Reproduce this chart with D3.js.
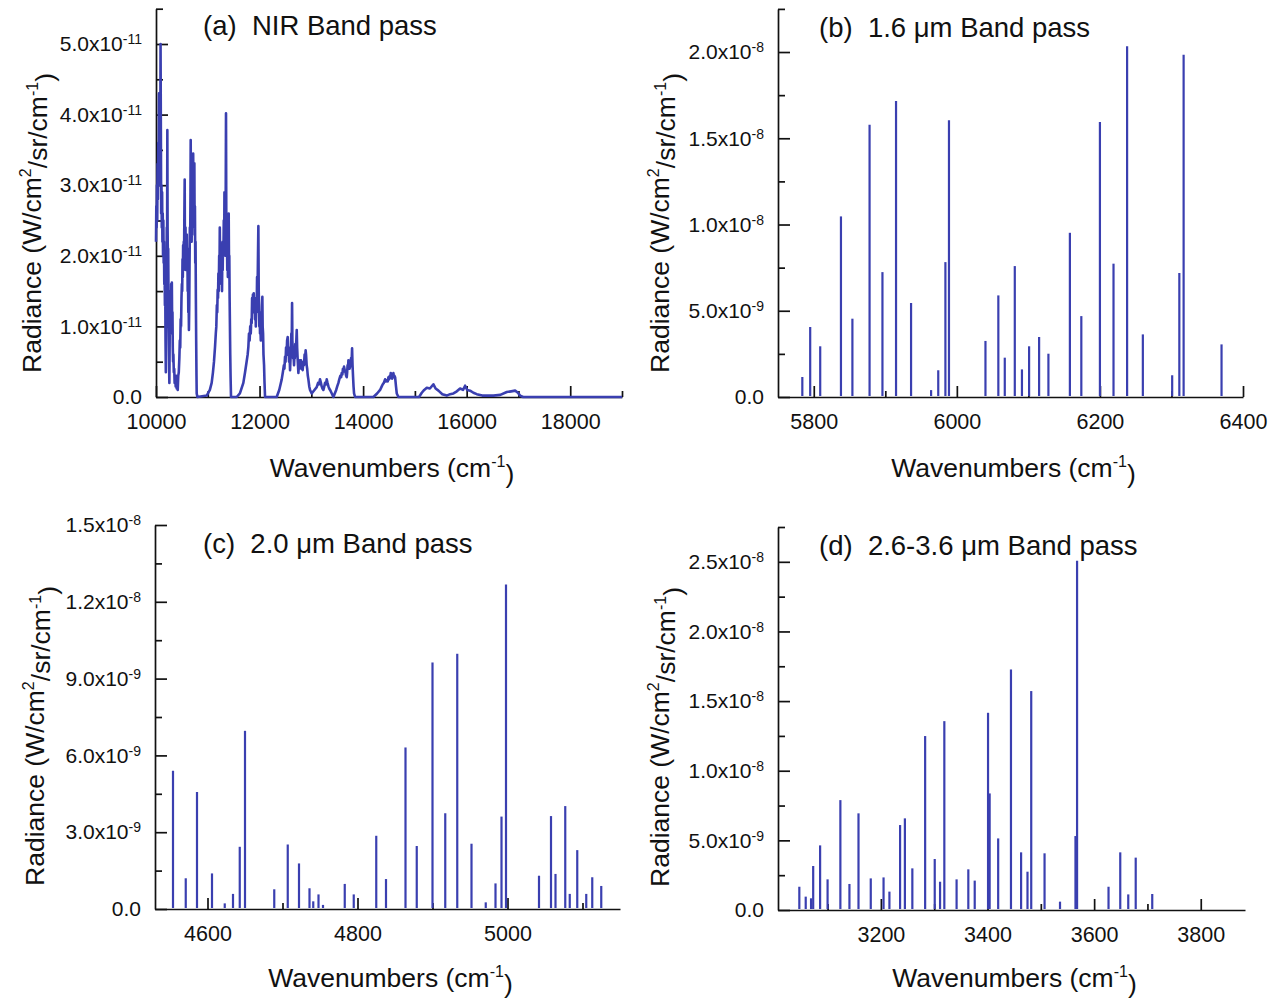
<!DOCTYPE html>
<html>
<head>
<meta charset="utf-8">
<script src="https://cdn.jsdelivr.net/npm/d3@7"></script>
<style>
body { margin: 0; background: #fff; }
svg { font-family: "Liberation Sans", Arial, sans-serif; }
</style>
</head>
<body>
<svg id="chart" width="1281" height="998"></svg>
<script>
// ---- (a) NIR band pass: dense spectrum, [wavenumber, radiance x1e-11]
var nirPoints = [
  [10000, 2.2], [10006, 2.7], [10012, 2.4], [10018, 3.0], [10024, 2.5], [10030, 3.3], [10036, 2.8], [10044, 3.6], [10050, 3.0], [10058, 4.3],
  [10066, 3.5], [10074, 4.0], [10082, 3.4], [10088, 5.0], [10094, 3.8], [10100, 2.6], [10106, 3.0], [10112, 2.4], [10118, 2.9], [10124, 2.2],
  [10130, 2.6], [10136, 2.0], [10142, 2.5], [10148, 1.9], [10154, 2.2], [10160, 1.6], [10166, 1.8], [10172, 1.3], [10178, 1.6], [10184, 0.8],
  [10190, 0.35], [10196, 1.0], [10202, 1.6], [10208, 2.4], [10214, 2.0], [10219, 3.78], [10224, 2.4], [10230, 1.9], [10236, 2.1], [10242, 1.3],
  [10248, 0.9], [10254, 0.4], [10258, 0.2], [10264, 0.8], [10270, 1.2], [10276, 0.9], [10282, 1.5], [10288, 1.1], [10294, 1.6], [10300, 1.2],
  [10306, 1.62], [10312, 1.0], [10318, 1.2], [10324, 0.7], [10330, 0.5], [10336, 0.6], [10344, 0.35], [10352, 0.4], [10360, 0.2], [10370, 0.3],
  [10380, 0.15], [10390, 0.3], [10400, 0.12], [10410, 0.25], [10420, 0.1], [10430, 0.3], [10440, 0.35], [10451, 0.55], [10460, 0.8], [10468, 0.7],
  [10476, 1.1], [10484, 1.0], [10492, 1.4], [10500, 1.6], [10506, 1.5], [10512, 1.95], [10518, 1.7], [10524, 2.15], [10530, 1.8], [10536, 2.2],
  [10542, 2.0], [10548, 2.6], [10554, 3.08], [10558, 2.2], [10564, 2.0], [10570, 2.4], [10576, 1.8], [10582, 2.1], [10588, 1.9], [10594, 2.3],
  [10600, 1.8], [10606, 2.1], [10612, 1.5], [10618, 1.7], [10624, 1.2], [10630, 1.4], [10636, 0.95], [10642, 1.3], [10648, 1.9], [10654, 2.4],
  [10660, 2.2], [10666, 2.9], [10670, 3.64], [10676, 2.6], [10682, 2.9], [10688, 2.2], [10694, 2.6], [10700, 2.3], [10706, 2.8], [10712, 2.6],
  [10718, 3.45], [10724, 2.8], [10730, 3.0], [10736, 2.6], [10741, 3.31], [10746, 2.4], [10752, 2.7], [10758, 1.9], [10764, 2.2], [10770, 1.4],
  [10776, 0.8], [10782, 0.3], [10786, 0.05], [10800, 0.0],
  [10980, 0.02], [11040, 0.1], [11075, 0.2], [11100, 0.35], [11120, 0.5], [11140, 0.71], [11155, 0.9], [11165, 1.0], [11175, 1.3], [11183, 1.2],
  [11191, 1.52], [11198, 1.4], [11205, 1.75], [11212, 1.5], [11220, 2.0], [11226, 1.7], [11232, 2.4], [11238, 1.9], [11244, 2.2], [11250, 1.7],
  [11256, 2.0], [11262, 1.6], [11269, 1.9], [11275, 1.5], [11281, 2.0], [11288, 1.8], [11295, 2.2], [11302, 2.0], [11309, 2.5], [11316, 2.1],
  [11322, 2.9], [11328, 2.2], [11334, 2.4], [11340, 2.0], [11346, 2.8], [11352, 4.02], [11358, 2.4], [11364, 2.0], [11370, 2.3], [11376, 1.8],
  [11382, 2.1], [11388, 1.7], [11394, 2.3], [11400, 2.0], [11404, 2.6], [11410, 1.9], [11416, 2.0], [11422, 1.4], [11428, 1.0], [11434, 0.6],
  [11440, 0.3], [11449, 0.0], [11558, 0.0],
  [11620, 0.05], [11687, 0.2], [11720, 0.35], [11750, 0.5], [11770, 0.6], [11784, 0.71], [11796, 0.9], [11808, 0.8], [11820, 1.0], [11830, 0.9],
  [11840, 1.1], [11848, 1.05], [11856, 1.4], [11864, 1.2], [11872, 1.45], [11880, 1.3], [11888, 1.47], [11896, 1.2], [11904, 1.4], [11912, 1.1],
  [11920, 1.33], [11928, 1.0], [11936, 1.3], [11944, 1.2], [11952, 1.7], [11960, 1.4], [11968, 1.9], [11977, 2.42], [11984, 1.5], [11990, 1.3],
  [11996, 1.0], [12002, 1.2], [12009, 0.9], [12016, 1.0], [12024, 0.8], [12032, 1.2], [12040, 1.0], [12048, 1.3], [12054, 1.42], [12060, 1.0],
  [12068, 0.9], [12076, 0.6], [12087, 0.45], [12096, 0.2], [12106, 0.0], [12331, 0.0],
  [12380, 0.1], [12428, 0.25], [12450, 0.35], [12470, 0.45], [12480, 0.4], [12492, 0.57], [12502, 0.5], [12512, 0.7], [12522, 0.6], [12532, 0.8],
  [12544, 0.85], [12552, 0.6], [12560, 0.7], [12570, 0.5], [12580, 0.6], [12589, 0.38], [12598, 0.55], [12606, 0.7], [12614, 0.9], [12622, 0.8],
  [12628, 1.33], [12634, 0.8], [12640, 0.7], [12648, 0.55], [12656, 0.6], [12666, 0.45], [12674, 0.6], [12682, 0.55], [12690, 0.75], [12700, 0.7],
  [12710, 0.8], [12718, 0.95], [12726, 0.7], [12735, 0.55], [12742, 0.45], [12750, 0.34], [12760, 0.45], [12770, 0.4], [12780, 0.52], [12790, 0.45],
  [12800, 0.52], [12810, 0.4], [12820, 0.45], [12832, 0.38], [12846, 0.5], [12858, 0.45], [12870, 0.6], [12880, 0.55], [12890, 0.66], [12898, 0.6],
  [12910, 0.45], [12920, 0.4], [12932, 0.3], [12943, 0.25], [12960, 0.15], [12975, 0.1], [13007, 0.05],
  [13060, 0.1], [13104, 0.14], [13130, 0.2], [13150, 0.18], [13168, 0.25], [13185, 0.2], [13200, 0.15], [13215, 0.12], [13233, 0.1], [13250, 0.15],
  [13265, 0.2], [13282, 0.18], [13297, 0.25], [13312, 0.2], [13330, 0.15], [13345, 0.12], [13362, 0.1], [13395, 0.05], [13426, 0.0],
  [13480, 0.1], [13500, 0.15], [13523, 0.2], [13540, 0.25], [13560, 0.3], [13575, 0.28], [13587, 0.34], [13600, 0.32], [13610, 0.4], [13620, 0.36],
  [13632, 0.43], [13645, 0.38], [13660, 0.35], [13672, 0.3], [13684, 0.28], [13692, 0.35], [13700, 0.45], [13708, 0.4], [13716, 0.52], [13724, 0.45],
  [13730, 0.48], [13738, 0.4], [13748, 0.43], [13758, 0.5], [13768, 0.55], [13778, 0.5], [13787, 0.69], [13796, 0.45], [13805, 0.3], [13815, 0.15],
  [13825, 0.05], [13845, 0.0], [14199, 0.0],
  [14270, 0.05], [14328, 0.1], [14360, 0.15], [14380, 0.18], [14400, 0.2], [14424, 0.25], [14440, 0.22], [14460, 0.24], [14475, 0.22], [14489, 0.28],
  [14500, 0.25], [14515, 0.3], [14525, 0.27], [14534, 0.34], [14545, 0.28], [14560, 0.26], [14572, 0.3], [14585, 0.34], [14595, 0.28], [14605, 0.3],
  [14618, 0.28], [14635, 0.15], [14650, 0.05], [14682, 0.0], [15080, 0.0],
  [15133, 0.06], [15180, 0.1], [15230, 0.13], [15290, 0.12], [15358, 0.18], [15400, 0.12], [15455, 0.09], [15530, 0.04], [15616, 0.02], [15680, 0.04],
  [15745, 0.05], [15810, 0.08], [15873, 0.12], [15930, 0.1], [15970, 0.16], [16010, 0.1], [16066, 0.09], [16130, 0.06], [16195, 0.04], [16300, 0.02],
  [16517, 0.02], [16650, 0.03], [16775, 0.07], [16860, 0.08], [16936, 0.09], [16990, 0.06], [17032, 0.02], [17090, 0.0], [19000, 0.0]];

// ---- (b) 1.6 um band pass lines, radiance x1e-8
var b16Wn = [5784, 5795, 5809, 5838, 5854, 5878, 5896, 5915, 5936, 5964, 5974, 5984, 5989, 6040, 6058, 6067, 6081, 6091, 6101, 6115,
  6128, 6158, 6174, 6200, 6219, 6238, 6260, 6301, 6311, 6317, 6370];
var b16Rad = [0.116, 0.406, 0.294, 1.047, 0.454, 1.578, 0.724, 1.716, 0.545, 0.04, 0.155, 0.782, 1.604, 0.325, 0.589, 0.228, 0.759, 0.16, 0.294, 0.348,
  0.251, 0.952, 0.469, 1.594, 0.773, 2.034, 0.363, 0.126, 0.719, 1.984, 0.305];

// ---- (c) 2.0 um band pass lines, radiance x1e-8
var c20Wn = [4554, 4571, 4586, 4606, 4623, 4634, 4643, 4650, 4689, 4707, 4722, 4736, 4741, 4748, 4754, 4783, 4795, 4825, 4838, 4864,
  4879, 4900, 4917, 4933, 4952, 4971, 4984, 4992, 4998, 5042, 5058, 5064, 5077, 5083, 5093, 5105, 5113, 5125];
var c20Rad = [0.540, 0.120, 0.457, 0.139, 0.022, 0.059, 0.243, 0.696, 0.077, 0.252, 0.178, 0.081, 0.03, 0.057, 0.016, 0.098, 0.057, 0.286, 0.117, 0.631,
  0.246, 0.963, 0.374, 0.997, 0.255, 0.026, 0.100, 0.361, 1.268, 0.130, 0.363, 0.137, 0.402, 0.059, 0.230, 0.059, 0.124, 0.090];

// ---- (d) 2.6-3.6 um band pass lines, radiance x1e-8
var d26Wn = [3047, 3059, 3069, 3073, 3086, 3100, 3124, 3141, 3158, 3181, 3205, 3216, 3236, 3245, 3259, 3283, 3301, 3311, 3319, 3342,
  3364, 3376, 3401, 3404, 3420, 3444, 3463, 3475, 3482, 3507, 3536, 3565, 3568, 3627, 3649, 3664, 3678, 3709];
var d26Rad = [0.167, 0.096, 0.084, 0.316, 0.464, 0.220, 0.789, 0.187, 0.694, 0.227, 0.234, 0.132, 0.610, 0.658, 0.299, 1.249, 0.366, 0.203, 1.356, 0.220,
  0.292, 0.211, 1.416, 0.837, 0.514, 1.727, 0.414, 0.275, 1.572, 0.407, 0.06, 0.531, 2.507, 0.167, 0.414, 0.112, 0.376, 0.115];

// ---- ticks
var aXTicks = [10000, 12000, 14000, 16000, 18000], aXMinor = [11000, 13000, 15000, 17000, 19000];
var aYTicks = [0, 1e-11, 2e-11, 3e-11, 4e-11, 5e-11], aYMinor = [0.5e-11, 1.5e-11, 2.5e-11, 3.5e-11, 4.5e-11, 5.5e-11];
var bXTicks = [5800, 6000, 6200, 6400], bXMinor = [5900, 6100, 6300];
var bYTicks = [0, 5e-9, 1e-8, 1.5e-8, 2e-8], bYMinor = [2.5e-9, 7.5e-9, 1.25e-8, 1.75e-8, 2.25e-8];
var cXTicks = [4600, 4800, 5000], cXMinor = [4700, 4900, 5100];
var cYTicks = [0, 3e-9, 6e-9, 9e-9, 1.2e-8, 1.5e-8], cYMinor = [1.5e-9, 4.5e-9, 7.5e-9, 1.05e-8, 1.35e-8];
var dXTicks = [3200, 3400, 3600, 3800], dXMinor = [3100, 3300, 3500, 3700];
var dYTicks = [0, 5e-9, 1e-8, 1.5e-8, 2e-8, 2.5e-8], dYMinor = [2.5e-9, 7.5e-9, 1.25e-8, 1.75e-8, 2.25e-8, 2.75e-8];

var lineColor = "#3a3fb0";
var svg = d3.select("#chart");

function expLabel(text, v) {
    text.text(null);
    if (v === 0) { text.text("0.0"); return; }
    var e = Math.floor(Math.log10(v) + 1e-9);
    var m = (v / Math.pow(10, e)).toFixed(1);
    text.append("tspan").text(m + "x10");
    text.append("tspan").attr("dy", "-0.5em").style("font-size", "14px").text(e);
}

function drawPanel(p)
{
    var g = svg.append("g");
    var x = d3.scaleLinear().domain(p.xDomain).range(p.xRange);
    var y = d3.scaleLinear().domain(p.yDomain).range(p.yRange);

    // minor ticks
    g.append("g").attr("transform", "translate(0," + p.yRange[0] + ")")
        .call(d3.axisBottom(x).tickValues(p.xMinor).tickSizeInner(-6).tickSizeOuter(0).tickFormat(""))
        .call(function(s){ s.select(".domain").remove(); });
    g.append("g").attr("transform", "translate(" + p.xRange[0] + ",0)")
        .call(d3.axisLeft(y).tickValues(p.yMinor).tickSizeInner(-7).tickSizeOuter(0).tickFormat(""))
        .call(function(s){ s.select(".domain").remove(); });

    // major axes
    var xa = g.append("g").attr("transform", "translate(0," + p.yRange[0] + ")")
        .call(d3.axisBottom(x).tickValues(p.xTicks).tickSizeInner(-11).tickSizeOuter(0).tickPadding(17).tickFormat(d3.format("d")));
    var ya = g.append("g").attr("transform", "translate(" + p.xRange[0] + ",0)")
        .call(d3.axisLeft(y).tickValues(p.yTicks).tickSizeInner(-12).tickSizeOuter(0).tickPadding(14));
    ya.selectAll(".tick text").each(function(d){ expLabel(d3.select(this), d); });

    [xa, ya].forEach(function(a){
        a.attr("font-family", null).attr("font-size", null);
        a.selectAll("text").attr("fill", "#111");
    });
    xa.selectAll("text").style("font-size", "21.5px");
    ya.selectAll("text").style("font-size", "21px");
    g.selectAll("line,path").attr("stroke", "#111").attr("stroke-width", 1.7);

    // data
    if (p.kind === "dense") {
        var line = d3.line()
            .x(function(d){ return x(d[0]); })
            .y(function(d){ return y(d[1] * p.unit); });
        g.append("path")
            .attr("d", line(p.points))
            .attr("fill", "none")
            .attr("stroke", lineColor)
            .attr("stroke-width", 2.6)
            .attr("stroke-linejoin", "round");
    } else {
        g.selectAll(".stick").data(d3.range(p.wn.length)).enter().append("line")
            .attr("class", "stick")
            .attr("x1", function(i){ return x(p.wn[i]); })
            .attr("x2", function(i){ return x(p.wn[i]); })
            .attr("y1", y(0) - 1)
            .attr("y2", function(i){ return y(p.rad[i] * p.unit); })
            .attr("stroke", lineColor)
            .attr("stroke-width", 2.2);
    }

    // titles
    g.append("text").attr("x", p.titleX).attr("y", p.titleY)
        .style("font-size", "27.5px").style("white-space", "pre").attr("fill", "#111")
        .text(p.title);

    var xt = g.append("text").attr("x", (p.xRange[0] + p.xRange[1]) / 2 + 3).attr("y", p.xTitleY)
        .attr("text-anchor", "middle").style("font-size", "26.5px").attr("fill", "#111");
    xt.append("tspan").text("Wavenumbers (cm");
    xt.append("tspan").attr("dy", "-0.6em").style("font-size", "16px").text("-1");
    xt.append("tspan").attr("dy", "0.6em").text(")");

    var yt = g.append("text")
        .attr("transform", "translate(" + p.yTitleX + "," + p.yTitleY + ") rotate(-90)")
        .attr("text-anchor", "middle").style("font-size", "26.5px").attr("fill", "#111");
    yt.append("tspan").text("Radiance (W/cm");
    yt.append("tspan").attr("dy", "-0.6em").style("font-size", "16px").text("2");
    yt.append("tspan").attr("dy", "0.6em").text("/sr/cm");
    yt.append("tspan").attr("dy", "-0.6em").style("font-size", "16px").text("-1");
    yt.append("tspan").attr("dy", "0.6em").text(")");
}

drawPanel({ kind: "dense", points: nirPoints, unit: 1e-11,
    xDomain: [10000, 19000], xRange: [156, 622], yDomain: [0, 5.5e-11], yRange: [397, 8.7],
    xTicks: aXTicks, xMinor: aXMinor, yTicks: aYTicks, yMinor: aYMinor,
    title: "(a)  NIR Band pass", titleX: 203, titleY: 35, xTitleY: 477, yTitleX: 41, yTitleY: 223 });

drawPanel({ kind: "sticks", wn: b16Wn, rad: b16Rad, unit: 1e-8,
    xDomain: [5750, 6400], xRange: [778, 1243], yDomain: [0, 2.25e-8], yRange: [397, 8.9],
    xTicks: bXTicks, xMinor: bXMinor, yTicks: bYTicks, yMinor: bYMinor,
    title: "(b)  1.6 \u03bcm Band pass", titleX: 819, titleY: 37, xTitleY: 477, yTitleX: 669, yTitleY: 223 });

drawPanel({ kind: "sticks", wn: c20Wn, rad: c20Rad, unit: 1e-8,
    xDomain: [4530, 5150], xRange: [155, 620], yDomain: [0, 1.5e-8], yRange: [909, 525],
    xTicks: cXTicks, xMinor: cXMinor, yTicks: cYTicks, yMinor: cYMinor,
    title: "(c)  2.0 \u03bcm Band pass", titleX: 203, titleY: 553, xTitleY: 987, yTitleX: 44, yTitleY: 736 });

drawPanel({ kind: "sticks", wn: d26Wn, rad: d26Rad, unit: 1e-8,
    xDomain: [3007, 3883], xRange: [778, 1245], yDomain: [0, 2.75e-8], yRange: [910, 527],
    xTicks: dXTicks, xMinor: dXMinor, yTicks: dYTicks, yMinor: dYMinor,
    title: "(d)  2.6-3.6 \u03bcm Band pass", titleX: 819, titleY: 555, xTitleY: 987, yTitleX: 669, yTitleY: 737 });
</script>
</body>
</html>
